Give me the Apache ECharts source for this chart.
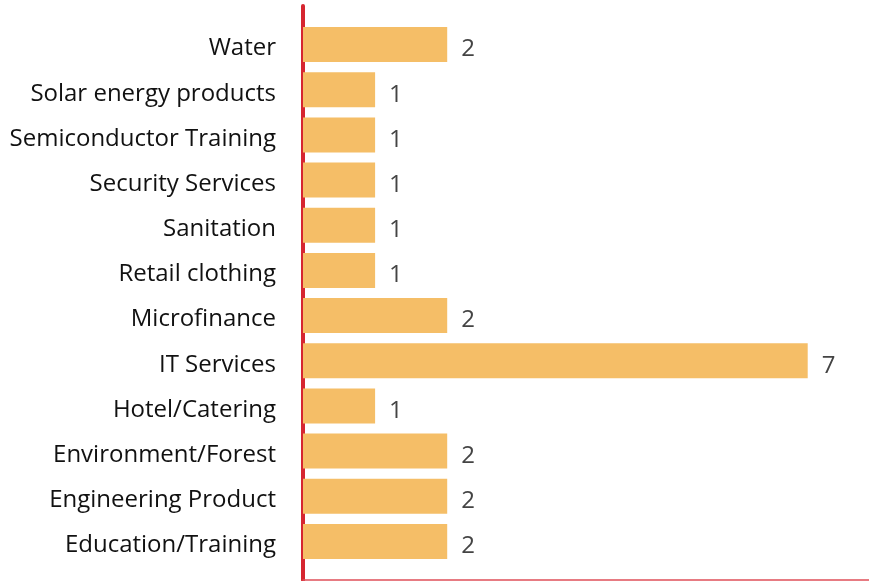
<!DOCTYPE html>
<html>
<head>
<meta charset="utf-8">
<script src="https://cdn.jsdelivr.net/npm/echarts@6/dist/echarts.min.js"></script>
<style>
  html, body { margin: 0; padding: 0; background: #fff; }
  #chart { width: 869px; height: 581px; }
</style>
</head>
<body>
<div id="chart"></div>
<script>
// categories listed top to bottom
let categories = [
  "Water",
  "Solar energy products",
  "Semiconductor Training",
  "Security Services",
  "Sanitation",
  "Retail clothing",
  "Microfinance",
  "IT Services",
  "Hotel/Catering",
  "Environment/Forest",
  "Engineering Product",
  "Education/Training",
];
let counts = [2, 1, 1, 1, 1, 1, 2, 7, 1, 2, 2, 2];

let chartDom = document.getElementById("chart");
let myChart = echarts.init(chartDom);
let font = "Open Sans";
let option;

option = {
  animation: false,
  grid: [
    // bars
    { left: 303, right: 0, top: 22, bottom: 17 },
    // frame lines only
    { left: 303, right: 0, top: 6, bottom: 1 },
  ],
  xAxis: [
    {
      gridIndex: 0,
      type: "value",
      min: 0,
      max: 7.85,
      show: false,
    },
    {
      gridIndex: 1,
      type: "value",
      min: 0,
      max: 1,
      axisLine: { show: true, lineStyle: { color: "#e0505a", width: 1.5 } },
      axisTick: { show: false },
      axisLabel: { show: false },
      splitLine: { show: false },
    },
  ],
  yAxis: [
    {
      gridIndex: 0,
      type: "category",
      inverse: true,
      data: categories,
      axisLine: { show: false },
      axisTick: { show: false },
      axisLabel: {
        margin: 27,
        formatter: function (v) {
          return "{a|" + v + "}";
        },
        rich: {
          a: {
            color: "#111",
            fontSize: 24,
            fontFamily: font,
            padding: [8, 0, 0, 0],
          },
        },
      },
    },
    {
      gridIndex: 1,
      type: "value",
      min: 0,
      max: 1,
      offset: 2,
      axisLine: { show: true, lineStyle: { color: "#d62630", width: 4 } },
      axisTick: { show: false },
      axisLabel: { show: false },
      splitLine: { show: false },
    },
  ],
  series: [
    {
      type: "bar",
      xAxisIndex: 0,
      yAxisIndex: 0,
      data: counts,
      barWidth: 35,
      itemStyle: { color: "#f5be67" },
      label: {
        show: true,
        position: "right",
        distance: 14,
        offset: [0, 5],
        color: "#444",
        fontSize: 24,
        fontFamily: font,
      },
    },
  ],
};

option && myChart.setOption(option);
</script>
</body>
</html>
